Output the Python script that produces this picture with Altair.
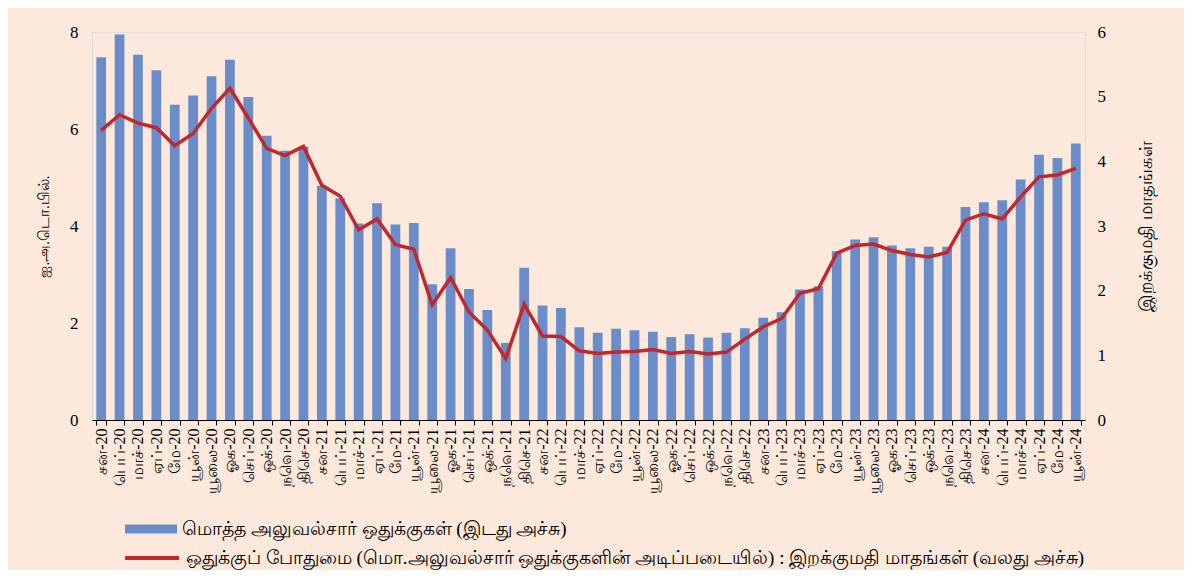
import altair as alt
import pandas as pd

months_ta = ["சன", "பெப்", "மாச்", "ஏப்", "மே", "யூன்", "யூலை", "ஓக", "செப்", "ஒக்", "நவெ", "திசெ"]
years = ["20", "21", "22", "23", "24"]
labels = [f"{m}-{y}" for y in years for m in months_ta][:54]

reserves = [7.48, 7.95, 7.53, 7.21, 6.50, 6.69, 7.09, 7.43, 6.66, 5.86, 5.55, 5.64,
            4.83, 4.57, 4.05, 4.47, 4.03, 4.06, 2.80, 3.54, 2.70, 2.27, 1.59, 3.14,
            2.36, 2.31, 1.91, 1.80, 1.88, 1.85, 1.82, 1.71, 1.77, 1.70, 1.80, 1.89,
            2.11, 2.22, 2.69, 2.76, 3.48, 3.72, 3.77, 3.60, 3.54, 3.57, 3.57, 4.39,
            4.49, 4.53, 4.96, 5.47, 5.40, 5.70]

import_months = [4.48, 4.72, 4.59, 4.52, 4.24, 4.43, 4.82, 5.13, 4.67, 4.20, 4.09, 4.23,
                 3.63, 3.46, 2.94, 3.11, 2.71, 2.64, 1.78, 2.20, 1.67, 1.39, 0.95, 1.79,
                 1.30, 1.29, 1.07, 1.03, 1.05, 1.06, 1.09, 1.03, 1.06, 1.02, 1.05, 1.25,
                 1.44, 1.57, 1.96, 2.03, 2.58, 2.70, 2.72, 2.62, 2.56, 2.52, 2.59, 3.09,
                 3.19, 3.11, 3.45, 3.76, 3.79, 3.89]

bar_label = "மொத்த அலுவல்சார் ஒதுக்குகள் (இடது அச்சு)"
line_label = "ஒதுக்குப் போதுமை (மொ.அலுவல்சார் ஒதுக்குகளின் அடிப்படையில்) : இறக்குமதி மாதங்கள் (வலது அச்சு)"
left_title = "ஐ.அ.டொ.பில்."
right_title = "இறக்குமதி  மாதங்கள்"

BLUE = "#6a8dca"
RED = "#c1272d"
BG = "#fde9db"
FONT = "Liberation Serif"

df = pd.DataFrame({
    "month": labels,
    "reserves": reserves,
    "imports": import_months,
    "s1": bar_label,
    "s2": line_label,
})

x = alt.X("month:N", sort=labels, title=None,
          scale=alt.Scale(paddingInner=0.47),
          axis=alt.Axis(labelAngle=270, labelFontSize=16, labelColor="#000",
                        domainColor="#000", tickColor="#000", tickSize=5,
                        tickBand="extent", labelPadding=3, domainWidth=1.2))

bars = alt.Chart(df).mark_bar().encode(
    x=x,
    y=alt.Y("reserves:Q", title=left_title,
            scale=alt.Scale(domain=[0, 8]),
            axis=alt.Axis(values=[0, 2, 4, 6, 8], grid=False, domain=False, ticks=False,
                          labelFontSize=17, labelPadding=14, titleFontSize=15,
                          titleFontWeight="normal", titlePadding=18, titleColor="#000",
                          labelColor="#000")),
    color=alt.Color("s1:N", scale=alt.Scale(domain=[bar_label], range=[BLUE]),
                    legend=alt.Legend(title=None, orient="none", legendX=33, legendY=471,
                                      symbolType="M-1,-0.17H1V0.17H-1Z", symbolSize=2704,
                                      symbolStrokeWidth=0, labelFontSize=19, labelLimit=1000,
                                      labelOffset=5, padding=0, labelColor="#000")),
)

line = alt.Chart(df).mark_line(strokeWidth=3.5).encode(
    x=x,
    y=alt.Y("imports:Q", title=right_title,
            scale=alt.Scale(domain=[0, 6]),
            axis=alt.Axis(orient="right", values=[0, 1, 2, 3, 4, 5, 6], grid=False,
                          domain=False, ticks=False, labelFontSize=17, labelPadding=12,
                          titleFontSize=18, titleFontWeight="normal", titleAngle=270,
                          titlePadding=50, titleColor="#000", labelColor="#000")),
    stroke=alt.Stroke("s2:N", scale=alt.Scale(domain=[line_label], range=[RED]),
                      legend=alt.Legend(title=None, orient="none", legendX=31, legendY=497,
                                        symbolType="stroke", symbolSize=2916,
                                        symbolStrokeWidth=4, labelFontSize=19, labelLimit=1000,
                                        labelOffset=5, padding=0, labelColor="#000")),
)

chart = alt.layer(bars, line).resolve_scale(
    y="independent", color="independent", stroke="independent"
).properties(
    width=993, height=388,
    autosize=alt.AutoSizeParams(type="none"),
    padding={"left": 84, "top": 24, "right": 99, "bottom": 150},
    background=BG,
).configure_view(stroke=None).configure(font=FONT)

chart.save("out.html", embed_options={"renderer": "svg", "actions": False})
